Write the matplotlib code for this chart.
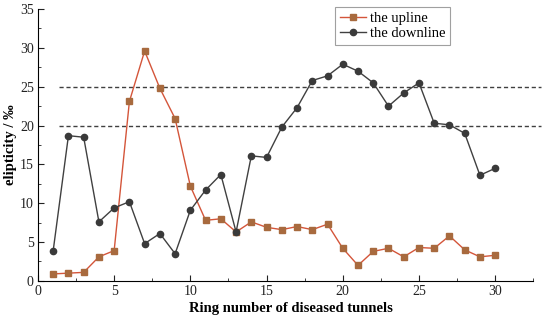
import matplotlib.pyplot as plt
from matplotlib.ticker import MultipleLocator

plt.rcParams['font.family'] = ['Liberation Serif', 'DejaVu Serif']

ring = list(range(1, 31))
upline = [0.9, 1.0, 1.1, 3.1, 3.9, 23.1, 29.6, 24.8, 20.9, 12.2,
          7.8, 8.0, 6.3, 7.6, 6.9, 6.6, 7.0, 6.6, 7.3, 4.2,
          2.0, 3.8, 4.2, 3.1, 4.3, 4.2, 5.8, 4.0, 3.1, 3.3]
downline = [3.9, 18.7, 18.5, 7.6, 9.4, 10.2, 4.8, 6.1, 3.5, 9.1,
            11.7, 13.7, 6.3, 16.1, 15.9, 19.8, 22.3, 25.8, 26.4, 27.9,
            27.0, 25.5, 22.5, 24.2, 25.5, 20.3, 20.1, 19.0, 13.6, 14.5]
limits = [20, 25]

fig = plt.figure(figsize=(5.5, 3.24), dpi=100)
ax = fig.add_axes([0.069, 0.133, 0.92, 0.839])

for lim in limits:
    ax.plot([1.4, 33.0], [lim, lim], color='#404040', linestyle=(0, (3, 2)), linewidth=1)

ax.plot(ring, upline, color='#d4553a', linewidth=1, marker='s', markersize=4,
        markerfacecolor='#a86a3e', markeredgecolor='#a86a3e', label='the upline')
ax.plot(ring, downline, color='#404040', linewidth=1, marker='o', markersize=4.5,
        markerfacecolor='#3a3a3a', markeredgecolor='#3a3a3a', label='the downline')

ax.set_xlim(0, 33.2)
ax.set_ylim(0, 35)
ax.spines['top'].set_visible(False)
ax.spines['right'].set_visible(False)
ax.spines['bottom'].set_bounds(0, 32.5)
ax.xaxis.set_major_locator(MultipleLocator(5))
ax.xaxis.set_minor_locator(MultipleLocator(2.5))
ax.yaxis.set_major_locator(MultipleLocator(5))
ax.yaxis.set_minor_locator(MultipleLocator(2.5))
ax.tick_params(which='both', direction='in', labelsize=10, colors='#222222')
ax.tick_params(which='major', length=4, pad=3)
ax.tick_params(which='minor', length=2.5)
ax.set_xticks([0, 5, 10, 15, 20, 25, 30])

ax.set_xlabel('Ring number of diseased tunnels', fontsize=10.5, fontweight='bold', labelpad=3)
ax.set_ylabel('elipticity / ‰', fontsize=10.5, fontweight='bold', labelpad=2)

leg = ax.legend(loc='upper left', bbox_to_anchor=(0.588, 1.007), fontsize=10.5,
                frameon=True, fancybox=False, edgecolor='#888888',
                handlelength=1.8, handletextpad=0.3, borderpad=0.3, labelspacing=0.15,
                borderaxespad=0)
leg.get_frame().set_linewidth(0.8)

fig.savefig('out.png', dpi=100)
